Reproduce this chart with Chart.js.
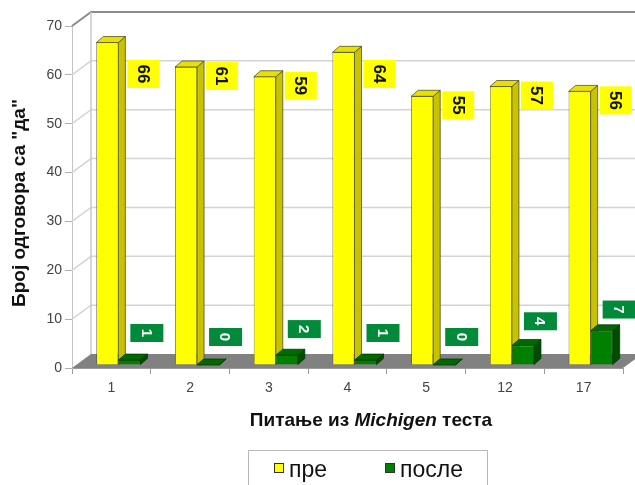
<!DOCTYPE html>
<html>
<head>
<meta charset="utf-8">
<script src="https://cdn.jsdelivr.net/npm/chart.js@4/dist/chart.umd.min.js"></script>
<style>
  body { margin: 0; background: #fff; }
  #wrap { width: 635px; height: 485px; }
</style>
</head>
<body>
<div id="wrap"><canvas id="chart" width="635" height="485"></canvas></div>
<script>
const categories = ["1", "2", "3", "4", "5", "12", "17"];
const pre = [66, 61, 59, 64, 55, 57, 56];
const posle = [1, 0, 2, 1, 0, 4, 7];
const yTicks = [0, 10, 20, 30, 40, 50, 60, 70];

const FONT = "'Liberation Sans', Arial, sans-serif";
const WALL_DX = 19, WALL_DY = 14;   // depth of the back wall
const BAR_DX = 7, BAR_DY = 6;       // depth of each bar
const SHIFT_X = 7, SHIFT_Y = -3;    // bars sit a bit inside the floor

const faceColors = [
  { side: "#c9c200", top: "#e8e000", line: "#4a4a20" },
  { side: "#004d00", top: "#006a00", line: "#003300" },
];

function poly(ctx, pts, fill, stroke) {
  ctx.beginPath();
  ctx.moveTo(pts[0][0], pts[0][1]);
  for (let i = 1; i < pts.length; i++) ctx.lineTo(pts[i][0], pts[i][1]);
  ctx.closePath();
  ctx.fillStyle = fill;
  ctx.fill();
  ctx.lineWidth = 0.75;
  ctx.strokeStyle = stroke;
  ctx.stroke();
}

// back wall, floor and the 3d faces of the bars
const wallPlugin = {
  id: "wall",
  beforeDatasetsDraw(chart) {
    const { ctx, chartArea: a, scales } = chart;
    const y = scales.y;
    ctx.save();
    ctx.lineWidth = 1.5;
    yTicks.forEach(v => {
      if (v === 0) return;
      const py = y.getPixelForValue(v);
      ctx.strokeStyle = v === 70 ? "#8c8c8c" : "#d4d4d4";
      ctx.lineWidth = v === 70 ? 2 : 1.5;
      ctx.beginPath();
      ctx.moveTo(a.left, py);
      ctx.lineTo(a.left + WALL_DX, py - WALL_DY);
      ctx.lineTo(a.right + WALL_DX, py - WALL_DY);
      ctx.stroke();
    });
    ctx.strokeStyle = "#c8c8c8";
    ctx.lineWidth = 1.5;
    ctx.beginPath();
    ctx.moveTo(a.left + WALL_DX, a.top - WALL_DY);
    ctx.lineTo(a.left + WALL_DX, a.bottom - WALL_DY);
    ctx.stroke();
    // floor
    ctx.beginPath();
    ctx.moveTo(a.left, a.bottom);
    ctx.lineTo(a.right, a.bottom);
    ctx.lineTo(a.right + WALL_DX, a.bottom - WALL_DY);
    ctx.lineTo(a.left + WALL_DX, a.bottom - WALL_DY);
    ctx.closePath();
    ctx.fillStyle = "#818181";
    ctx.fill();
    ctx.restore();

    ctx.save();
    ctx.translate(SHIFT_X, SHIFT_Y);
    chart.data.datasets.forEach((ds, i) => {
      const c = faceColors[i];
      chart.getDatasetMeta(i).data.forEach(el => {
        const p = el.getProps(["x", "y", "base", "width"], true);
        const l = p.x - p.width / 2, r = p.x + p.width / 2;
        poly(ctx, [[r, p.y], [r + BAR_DX, p.y - BAR_DY], [r + BAR_DX, p.base - BAR_DY], [r, p.base]], c.side, c.line);
        poly(ctx, [[l, p.y], [l + BAR_DX, p.y - BAR_DY], [r + BAR_DX, p.y - BAR_DY], [r, p.y]], c.top, c.line);
      });
    });
  },
  afterDatasetsDraw(chart) {
    chart.ctx.restore();
  },
};

function box(ctx, x, y, w, h, fill, text, color, font) {
  ctx.fillStyle = fill;
  ctx.fillRect(x, y, w, h);
  ctx.save();
  ctx.translate(x + w / 2, y + h / 2);
  ctx.rotate(Math.PI / 2);
  ctx.fillStyle = color;
  ctx.font = font;
  ctx.textAlign = "center";
  ctx.textBaseline = "middle";
  ctx.fillText(text, 0, 1);
  ctx.restore();
}

// value boxes, axis titles and the legend
const textPlugin = {
  id: "texts",
  afterDraw(chart) {
    const { ctx, chartArea: a } = chart;
    ctx.save();
    chart.getDatasetMeta(0).data.forEach((el, i) => {
      const left = el.x + el.width / 2 + SHIFT_X + BAR_DX + 2;
      const top = Math.max(a.top + 34, el.y - 8);
      box(ctx, left, top, 32, 28, "#ffff00", String(pre[i]), "#111", "bold 17px " + FONT);
    });
    chart.getDatasetMeta(1).data.forEach((el, i) => {
      const left = el.x - el.width / 2 + SHIFT_X + 12;
      const cy = el.base - 31 - 0.8 * (el.base - el.y);
      box(ctx, left, cy - 9, 33, 18, "#008a3a", String(posle[i]), "#fff", "bold 15px " + FONT);
    });

    // y title
    ctx.save();
    ctx.translate(20, 203);
    ctx.rotate(-Math.PI / 2);
    ctx.font = "bold 19px " + FONT;
    ctx.fillStyle = "#111";
    ctx.textAlign = "center";
    ctx.textBaseline = "middle";
    ctx.fillText("Број одговора са \"да\"", 0, 0);
    ctx.restore();

    // x title with italic word
    const parts = [
      ["Питање из ", "bold 19px " + FONT],
      ["Michigen", "italic bold 19px " + FONT],
      [" теста", "bold 19px " + FONT],
    ];
    let total = 0;
    parts.forEach(p => { ctx.font = p[1]; total += ctx.measureText(p[0]).width; });
    let x = 371 - total / 2;
    ctx.fillStyle = "#111";
    ctx.textBaseline = "alphabetic";
    parts.forEach(p => {
      ctx.font = p[1];
      ctx.fillText(p[0], x, 426);
      x += ctx.measureText(p[0]).width;
    });

    // legend
    ctx.strokeStyle = "#b8b8b8";
    ctx.lineWidth = 1;
    ctx.strokeRect(248.5, 450.5, 239, 40);
    const items = [
      ["пре", "#ffff00", 274],
      ["после", "#008000", 385],
    ];
    ctx.font = "23px " + FONT;
    items.forEach(it => {
      ctx.fillStyle = it[1];
      ctx.fillRect(it[2], 463, 9, 9);
      ctx.strokeStyle = "#333";
      ctx.strokeRect(it[2] + 0.5, 463.5, 9, 9);
      ctx.fillStyle = "#111";
      ctx.fillText(it[0], it[2] + 15, 477);
    });
    ctx.restore();
  },
};

new Chart(document.getElementById("chart"), {
  type: "bar",
  data: {
    labels: categories,
    datasets: [
      { label: "пре", data: pre, backgroundColor: "#ffff00", borderColor: "#4a4a20", borderWidth: 0.75 },
      { label: "после", data: posle, backgroundColor: "#008000", borderColor: "#003300", borderWidth: 0.75 },
    ],
  },
  options: {
    responsive: false,
    animation: false,
    categoryPercentage: 0.56,
    barPercentage: 1,
    layout: { padding: { top: 26, right: 12, left: 0, bottom: 0 } },
    plugins: { legend: { display: false }, tooltip: { enabled: false } },
    scales: {
      x: {
        afterFit(s) { s.height = 117; },
        grid: { offset: true, drawOnChartArea: false, tickLength: 6, tickColor: "#9a9a9a" },
        border: { color: "#9a9a9a" },
        ticks: { color: "#444", font: { family: FONT, size: 14 }, padding: 6 },
      },
      y: {
        min: 0,
        max: 70,
        afterFit(s) { s.width = 72; },
        afterBuildTicks(s) { s.ticks = yTicks.map(v => ({ value: v })); },
        grid: { drawOnChartArea: false, tickLength: 7, tickColor: "#b0b0b0" },
        border: { color: "#c4c4c4" },
        ticks: { color: "#444", font: { family: FONT, size: 14 }, padding: 3 },
      },
    },
  },
  plugins: [wallPlugin, textPlugin],
});
</script>
</body>
</html>
